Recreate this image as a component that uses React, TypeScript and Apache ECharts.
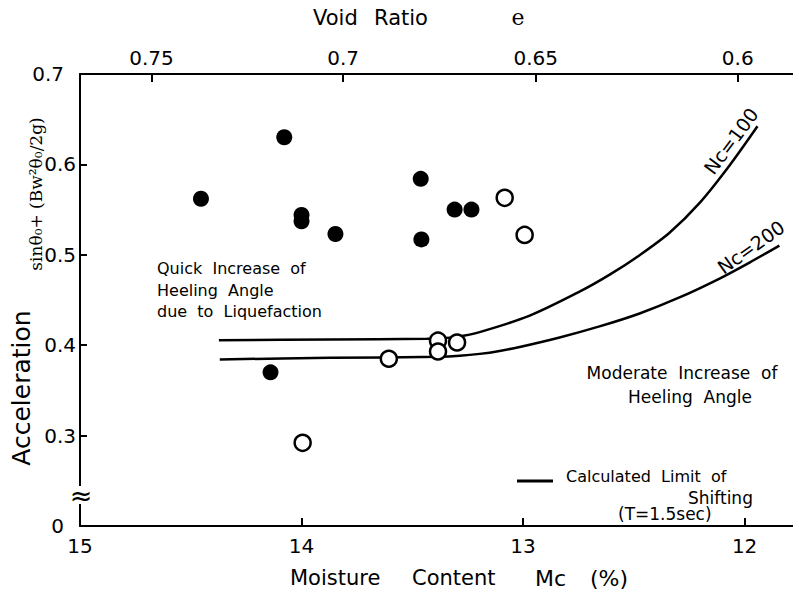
import React, { useEffect, useRef } from "react";
import * as echarts from "echarts";

// Bottom axis ticks (moisture content, %)
const mcTicks = [15, 14, 13, 12];
// Top axis: void ratio labels and the moisture content at which each occurs
const voidTicks = ["0.75", "0.7", "0.65", "0.6"];
const voidTickMc = [14.677, 13.812, 12.943, 12.031];

// Measured points: moisture content Mc (%) and acceleration
const filledMc = [14.454, 14.078, 14.0, 14.0, 13.847, 13.462, 13.459, 13.309, 13.233, 14.14];
const filledAcc = [0.562, 0.63, 0.544, 0.537, 0.523, 0.584, 0.517, 0.55, 0.55, 0.37];
const openMc = [13.083, 12.993, 13.995, 13.606, 13.384, 13.384, 13.298];
const openAcc = [0.563, 0.522, 0.292, 0.385, 0.405, 0.393, 0.403];

// Calculated limit of shifting curves
const nc100Mc = [14.373, 13.872, 13.435, 13.376, 13.3, 13.196, 12.97, 12.745, 12.609, 12.474, 12.339, 12.203, 12.068, 11.942];
const nc100Acc = [0.4055, 0.4064, 0.407, 0.4075, 0.4092, 0.4145, 0.4327, 0.4592, 0.478, 0.4996, 0.5244, 0.5575, 0.5989, 0.6422];
const nc200Mc = [14.369, 13.872, 13.376, 13.286, 13.196, 13.106, 13.015, 12.835, 12.655, 12.474, 12.294, 12.113, 11.978, 11.843];
const nc200Acc = [0.3843, 0.386, 0.3871, 0.3882, 0.3904, 0.3937, 0.3981, 0.4086, 0.4208, 0.4351, 0.4528, 0.4737, 0.4914, 0.5102];

const FONT = "DejaVu Sans";

export default function App() {
  const ref = useRef<HTMLDivElement>(null);
  useEffect(() => {
    if (!ref.current) return;
    const chart = echarts.init(ref.current, null, { renderer: "svg" });
    const zip = (a: number[], b: number[]) => a.map((v, i) => [v, b[i]]);
    const txt = (text: string, x: number, y: number, size: number, extra: any = {}) => ({
      type: "text",
      x,
      y,
      z: 10,
      rotation: extra.rotation || 0,
      style: {
        text,
        fontSize: size,
        fontFamily: extra.family || FONT,
        fill: "#000",
        textAlign: extra.align || "left",
        textVerticalAlign: "middle",
        fontWeight: extra.weight || "normal",
      },
    });
    const axisLineStyle = { color: "#000", width: 2 };
    chart.setOption({
      animation: false,
      backgroundColor: "#fff",
      grid: { left: 80, right: 1, top: 74, bottom: 71 },
      xAxis: [
        {
          type: "value",
          min: 11.75,
          max: 15,
          inverse: true,
          position: "bottom",
          splitLine: { show: false },
          axisLine: { show: true, lineStyle: axisLineStyle },
          axisTick: { show: true, inside: true, length: 8, lineStyle: axisLineStyle, customValues: mcTicks },
          axisLabel: {
            customValues: mcTicks,
            color: "#000",
            fontSize: 20,
            fontFamily: FONT,
            margin: 10,
            formatter: (v: number) => String(v),
          },
        },
        {
          type: "value",
          min: 11.75,
          max: 15,
          inverse: true,
          position: "top",
          splitLine: { show: false },
          axisLine: { show: true, lineStyle: axisLineStyle },
          axisTick: { show: true, inside: true, length: 8, lineStyle: axisLineStyle, customValues: voidTickMc },
          axisLabel: {
            customValues: voidTickMc,
            color: "#000",
            fontSize: 20,
            fontFamily: FONT,
            margin: 6,
            formatter: (v: number) => {
              const i = voidTickMc.findIndex((m) => Math.abs(m - v) < 1e-6);
              return i >= 0 ? voidTicks[i] : "";
            },
          },
        },
      ],
      yAxis: [
        {
          type: "value",
          min: 0.2,
          max: 0.7,
          interval: 0.1,
          position: "left",
          splitLine: { show: false },
          axisLine: { show: true, lineStyle: axisLineStyle },
          axisTick: { show: true, inside: true, length: 7, lineStyle: axisLineStyle },
          axisLabel: {
            color: "#000",
            fontSize: 20,
            fontFamily: FONT,
            margin: 4,
            formatter: (v: number) =>
              v < 0.25 ? "{far|0}" : v > 0.65 ? "{far|0.7}" : "{near|" + v.toFixed(1) + "}",
            rich: {
              far: { fontSize: 20, fontFamily: FONT, color: "#000", padding: [0, 12, 0, 0] },
              near: { fontSize: 20, fontFamily: FONT, color: "#000" },
            },
          },
        },
        {
          type: "value",
          min: 0.2,
          max: 0.7,
          interval: 0.1,
          position: "right",
          splitLine: { show: false },
          axisLine: { show: false },
          axisTick: { show: true, inside: true, length: 5, lineStyle: axisLineStyle },
          axisLabel: { show: false },
        },
      ],
      series: [
        {
          type: "line",
          data: zip(nc100Mc, nc100Acc),
          smooth: 0.3,
          showSymbol: false,
          lineStyle: { color: "#000", width: 2.5 },
          z: 2,
        },
        {
          type: "line",
          data: zip(nc200Mc, nc200Acc),
          smooth: 0.3,
          showSymbol: false,
          lineStyle: { color: "#000", width: 2.5 },
          z: 2,
        },
        {
          type: "scatter",
          data: zip(filledMc, filledAcc),
          symbol: "circle",
          symbolSize: 16,
          itemStyle: { color: "#000", opacity: 1 },
          z: 3,
        },
        {
          type: "scatter",
          data: zip(openMc, openAcc),
          symbol: "circle",
          symbolSize: 16,
          itemStyle: { color: "#fff", borderColor: "#000", borderWidth: 2.5, opacity: 1 },
          z: 4,
        },
      ],
      graphic: [
        // axis break
        { type: "rect", shape: { x: 72, y: 486, width: 16, height: 18 }, style: { fill: "#fff" }, z: 9 },
        txt("≈", 81, 495, 27, { align: "center" }),
        // titles
        txt("Void", 313, 18, 21),
        txt("Ratio", 374, 18, 21),
        txt("e", 518, 17, 22, { align: "center", family: "DejaVu Serif" }),
        txt("Moisture", 290, 578, 21),
        txt("Content", 412, 578, 21),
        txt("Mc", 535, 578, 22),
        txt("(%)", 590, 578, 22),
        txt("Acceleration", 21, 388, 25, { align: "center", rotation: Math.PI / 2 }),
        txt("sinθ₀+ (Bw²θ₀/2g)", 36, 194, 17, { align: "center", rotation: Math.PI / 2, family: "DejaVu Serif" }),
        // annotations
        txt("Quick  Increase  of", 157, 268, 16),
        txt("Heeling  Angle", 157, 290, 16),
        txt("due  to  Liquefaction", 157, 311, 16),
        txt("Moderate  Increase  of", 682, 373, 17, { align: "center" }),
        txt("Heeling  Angle", 690, 397, 17, { align: "center" }),
        txt("Nc=100", 731, 141, 19, { align: "center", rotation: 0.93 }),
        txt("Nc=200", 751, 247, 19, { align: "center", rotation: 0.62 }),
        // legend
        { type: "line", shape: { x1: 517, y1: 481, x2: 553, y2: 481 }, style: { stroke: "#000", lineWidth: 3 }, z: 10 },
        txt("Calculated  Limit  of", 566, 476, 16),
        txt("Shifting", 688, 498, 17),
        txt("(T=1.5sec)", 618, 514, 17),
      ],
    });
    return () => chart.dispose();
  }, []);
  return <div ref={ref} style={{ width: 801, height: 597, margin: -8 }} />;
}
